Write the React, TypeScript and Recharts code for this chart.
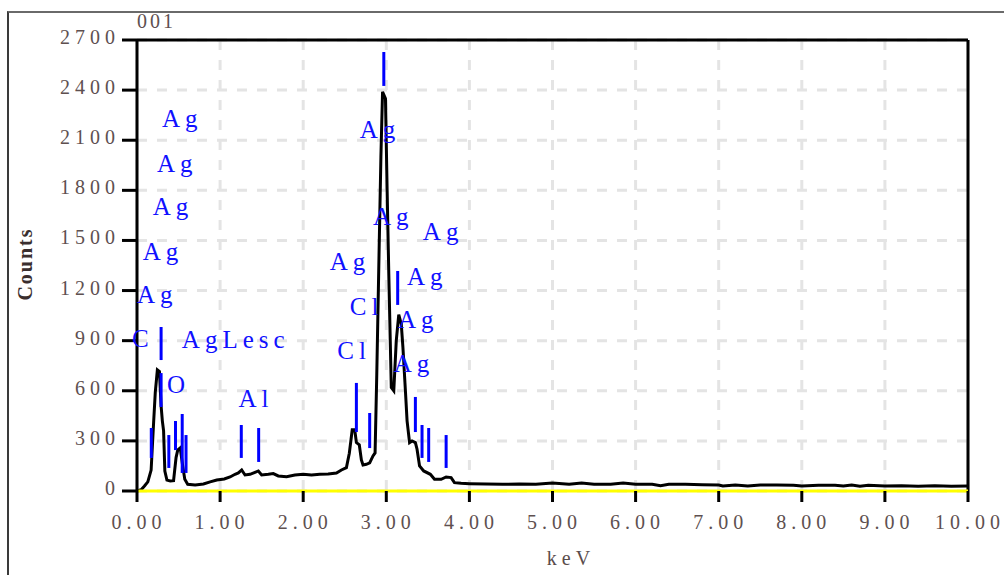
import { LineChart, Line, XAxis, YAxis, CartesianGrid, ReferenceLine, ReferenceDot } from 'recharts';

// EDS spectrum: energy (keV) and counts, read point by point
const spectrumKeV = [
  0.0, 0.05, 0.09, 0.13, 0.17, 0.2, 0.22, 0.245, 0.27, 0.29, 0.305, 0.32, 0.335, 0.36, 0.4, 0.44, 0.47, 0.49,
  0.52, 0.55, 0.575, 0.61, 0.7, 0.8, 0.88, 0.96, 1.05, 1.12, 1.18, 1.22, 1.26, 1.3, 1.36, 1.42, 1.46, 1.5,
  1.58, 1.64, 1.7, 1.8, 1.9, 2.0, 2.1, 2.2, 2.3, 2.4, 2.46, 2.52, 2.555, 2.59, 2.62, 2.64, 2.675, 2.7, 2.72,
  2.76, 2.8, 2.84, 2.865, 2.885, 2.91, 2.935, 2.955, 2.99, 3.01, 3.03, 3.06, 3.09, 3.12, 3.15, 3.18, 3.2,
  3.23, 3.25, 3.28, 3.31, 3.35, 3.37, 3.4, 3.45, 3.53, 3.58, 3.66, 3.72, 3.78, 3.82, 3.9, 4.0, 4.2, 4.4,
  4.6, 4.8, 5.0, 5.2, 5.35, 5.5, 5.7, 5.85, 6.0, 6.2, 6.3, 6.4, 6.6, 6.8, 7.0, 7.05, 7.2, 7.35, 7.5, 7.7,
  7.9, 8.0, 8.2, 8.4, 8.5, 8.6, 8.7, 8.8, 9.0, 9.2, 9.4, 9.6, 9.8, 10.0,
];
const spectrumCounts = [
  0, 8, 30, 55, 125, 410, 590, 725, 715, 510, 420, 360, 120, 65, 60, 62, 200, 245,
  258, 150, 70, 40, 36, 42, 55, 66, 72, 84, 100, 108, 126, 96, 100, 112, 120, 96,
  100, 104, 90, 86, 96, 100, 96, 100, 102, 108, 126, 140, 226, 366, 366, 290, 276, 186, 156,
  160, 168, 210, 228, 690, 1350, 2000, 2390, 2350, 1800, 1300, 620, 600, 900, 1056, 1000, 860,
  600, 420, 290, 300, 290, 250, 150, 120, 100, 70, 70, 84, 80, 50, 46, 44, 42, 40,
  42, 40, 48, 40, 48, 40, 40, 48, 40, 40, 32, 40, 40, 38, 36, 30, 36, 30, 36, 36,
  34, 30, 34, 34, 30, 36, 28, 34, 30, 32, 28, 32, 28, 30,
];

// element line markers: position and vertical extent in counts
const markerKeV = [0.172, 0.29, 0.29, 0.383, 0.463, 0.544, 0.59, 1.255, 1.464, 2.64, 2.8, 2.97, 3.137, 3.35, 3.43, 3.51, 3.72];
const markerLow = [198, 503, 784, 138, 245, 108, 108, 198, 174, 353, 257, 2425, 1114, 353, 198, 174, 138];
const markerHigh = [377, 706, 982, 335, 419, 461, 335, 395, 377, 647, 467, 2628, 1317, 563, 395, 377, 335];

// element labels, anchored at the left end of the baseline
const labelText = ['Ag', 'Ag', 'Ag', 'Ag', 'Ag', 'C', 'AgLesc', 'O', 'Al', 'Ag', 'Ag', 'Ag', 'Ag', 'Cl', 'Cl', 'Ag', 'Ag', 'Ag'];
const labelKeV = [0.3, 0.24, 0.19, 0.07, 0.0, -0.06, 0.54, 0.36, 1.22, 2.68, 2.84, 3.44, 2.32, 2.56, 2.41, 3.25, 3.14, 3.09];
const labelCounts = [2179, 1910, 1652, 1383, 1126, 862, 856, 587, 503, 2113, 1593, 1503, 1323, 1054, 790, 1233, 976, 712];

const xTicks = [0, 1, 2, 3, 4, 5, 6, 7, 8, 9, 10];
const yTicks = [0, 300, 600, 900, 1200, 1500, 1800, 2100, 2400, 2700];

const spectrum = spectrumKeV.map((keV, i) => ({ keV, counts: spectrumCounts[i] }));

const tickFont = {
  fontFamily: '"Liberation Serif", serif',
  fontSize: 20,
  letterSpacing: 5,
  fill: '#5e5050',
};

const YTick = ({ x, y, payload }: any) => (
  <text x={x} y={y + 4} textAnchor="end" {...tickFont}>
    {payload.value}
  </text>
);

const XTick = ({ x, y, payload }: any) => (
  <text x={x + 2} y={y + 25} textAnchor="middle" {...tickFont}>
    {payload.value.toFixed(2)}
  </text>
);

const labelShape = (text: string) => (props: any) => (
  <text
    x={props.cx}
    y={props.cy}
    fontFamily='"Liberation Serif", serif'
    fontSize={25}
    letterSpacing={5}
    fill="#1010ff"
  >
    {text}
  </text>
);

export default function App() {
  return (
    <div style={{ position: 'absolute', left: 0, top: 0, width: 1004, height: 575, background: '#fff', overflow: 'hidden' }}>
      <div
        style={{
          position: 'absolute',
          left: 7,
          top: 11,
          width: 1100,
          height: 700,
          borderLeft: '2px solid #3a3a3a',
          borderTop: '2px solid #6a6a6a',
        }}
      />
      <div
        style={{
          position: 'absolute',
          left: 137,
          top: 10,
          fontFamily: '"Liberation Serif", serif',
          fontSize: 20,
          letterSpacing: 3,
          color: '#5e5050',
        }}
      >
        001
      </div>
      <div
        style={{
          position: 'absolute',
          left: 25,
          top: 264,
          transform: 'translate(-50%, -50%) rotate(-90deg)',
          fontFamily: '"Liberation Serif", serif',
          fontSize: 20,
          fontWeight: 'bold',
          letterSpacing: 2,
          color: '#3a2e2e',
          whiteSpace: 'nowrap',
        }}
      >
        Counts
      </div>
      <div
        style={{
          position: 'absolute',
          left: 571,
          top: 558,
          transform: 'translate(-50%, -50%)',
          fontFamily: '"Liberation Serif", serif',
          fontSize: 20,
          letterSpacing: 5,
          color: '#5a4c4c',
          whiteSpace: 'nowrap',
        }}
      >
        keV
      </div>
      <div style={{ position: 'absolute', left: 0, top: 0 }}>
        <LineChart width={1004} height={575} data={spectrum} margin={{ top: 40, right: 36, left: 77, bottom: 44 }}>
          <CartesianGrid stroke="#e4e4e4" strokeWidth={3} strokeDasharray="10 10" />
          <XAxis
            dataKey="keV"
            type="number"
            domain={[0, 10]}
            ticks={xTicks}
            interval={0}
            height={40}
            axisLine={false}
            tickSize={11}
            tickLine={{ stroke: '#000', strokeWidth: 3 }}
            tick={<XTick />}
          />
          <YAxis
            type="number"
            domain={[0, 2700]}
            ticks={yTicks}
            interval={0}
            width={60}
            axisLine={{ stroke: '#000', strokeWidth: 3 }}
            tickSize={15}
            tickLine={{ stroke: '#000', strokeWidth: 3 }}
            tick={<YTick />}
          />
          <ReferenceLine y={2700} stroke="#000" strokeWidth={3} />
          <ReferenceLine x={10} stroke="#000" strokeWidth={3} />
          <Line
            type="linear"
            dataKey="counts"
            stroke="#000"
            strokeWidth={3}
            dot={false}
            isAnimationActive={false}
          />
          <ReferenceLine y={0} stroke="#ffff00" strokeWidth={3} />
          {markerKeV.map((k, i) => (
            <ReferenceLine
              key={`m${i}`}
              segment={[
                { x: k, y: markerLow[i] },
                { x: k, y: markerHigh[i] },
              ]}
              stroke="#0000ff"
              strokeWidth={3}
            />
          ))}
          {labelText.map((t, i) => (
            <ReferenceDot
              key={`l${i}`}
              x={labelKeV[i]}
              y={labelCounts[i]}
              r={0}
              ifOverflow="visible"
              shape={labelShape(t)}
            />
          ))}
        </LineChart>
      </div>
    </div>
  );
}
